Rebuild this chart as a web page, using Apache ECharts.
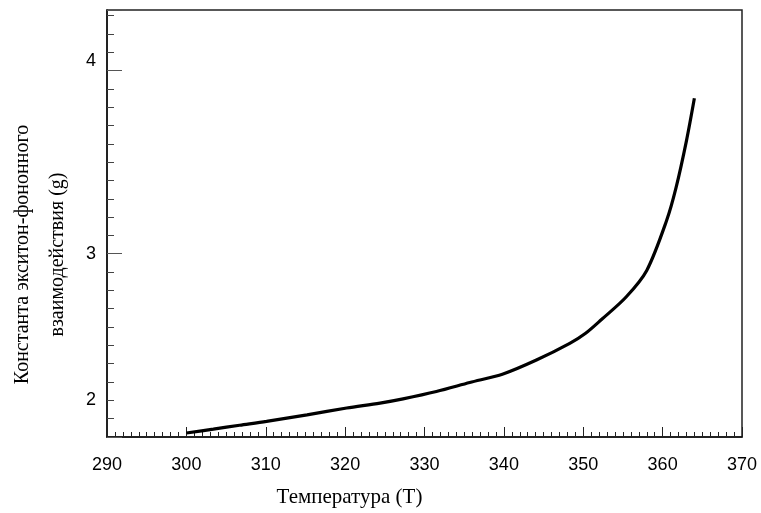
<!DOCTYPE html>
<html>
<head>
<meta charset="utf-8">
<script src="https://cdn.jsdelivr.net/npm/echarts@6/dist/echarts.min.js"></script>
<style>html,body{margin:0;padding:0;background:#fff}#c{width:761px;height:513px}</style>
</head>
<body>
<div id="c"></div>
<script>
// Temperature (T) values
var temperature = [300, 303.4, 306.7, 310.1, 315.2, 320.2, 324.4, 327.3, 331.5, 335.7, 339.9, 344.1, 348.3, 350.3, 352.3, 355.4, 358.0, 360.5, 361.7, 363.0, 364.0];
// Exciton-phonon coupling constant (g)
var gValues = [2.022, 2.043, 2.064, 2.085, 2.121, 2.158, 2.185, 2.208, 2.248, 2.297, 2.344, 2.420, 2.511, 2.566, 2.641, 2.764, 2.909, 3.181, 3.362, 3.616, 3.848];
// Y tick labels as printed on the reference, at the heights where they are printed
var yLabelTexts = ['2', '3', '4'];
var yLabelAt = [2.2, 3.0, 4.05];
// X ticks
var xMin = 290, xMax = 370, xStep = 10;

var pts = temperature.map(function (t, i) { return [t, gValues[i]]; });
var chart = echarts.init(document.getElementById('c'));
var sans = 'Liberation Sans, Arial, sans-serif';
var serif = 'Liberation Serif, Times New Roman, serif';
chart.setOption({
  animation: false,
  backgroundColor: '#fff',
  grid: { left: 107, right: 19, top: 10, bottom: 76, show: true, borderColor: '#222', borderWidth: 1.5, containLabel: false, outerBoundsMode: 'none' },
  xAxis: {
    type: 'value', min: xMin, max: xMax, interval: xStep,
    axisLine: { show: true, lineStyle: { color: '#111', width: 1.5 } },
    axisTick: { show: true, inside: true, length: 10, lineStyle: { color: '#222' } },
    minorTick: { show: true, splitNumber: 10, length: 5, lineStyle: { color: '#222' } },
    splitLine: { show: false },
    axisLabel: { color: '#000', fontFamily: sans, fontSize: 18, margin: 19 },
    name: 'Температура (T)', nameLocation: 'middle', nameGap: 50,
    nameTextStyle: { color: '#000', fontFamily: serif, fontSize: 21, padding: [0, 150, 0, 0] }
  },
  yAxis: [{
    type: 'value', min: 2, max: 4.33, interval: 1,
    axisLine: { show: true, lineStyle: { color: '#111', width: 1.5 } },
    axisTick: { show: true, inside: true, length: 15, lineStyle: { color: '#555' } },
    minorTick: { show: true, splitNumber: 10, length: 7, lineStyle: { color: '#444' } },
    splitLine: { show: false },
    axisLabel: { show: false },
    name: 'Константа экситон-фононного\nвзаимодействия (g)', nameLocation: 'middle', nameGap: 32,
    nameRotate: 90,
    nameTextStyle: { color: '#000', fontFamily: serif, fontSize: 20, lineHeight: 35, padding: [0, 62, 0, 0] }
  }, {
    type: 'value', min: 2, max: 4.33, interval: 0.05, position: 'left',
    axisLine: { show: false }, axisTick: { show: false }, splitLine: { show: false },
    axisLabel: {
      color: '#000', fontFamily: sans, fontSize: 18, margin: 11,
      formatter: function (v) {
        for (var i = 0; i < yLabelAt.length; i++) {
          if (Math.abs(v - yLabelAt[i]) < 1e-6) return yLabelTexts[i];
        }
        return '';
      }
    }
  }],
  series: [{
    type: 'line', data: pts, smooth: 0.3, showSymbol: false, symbol: 'none',
    lineStyle: { color: '#000', width: 3.2 }, yAxisIndex: 0
  }]
});
</script>
</body>
</html>
